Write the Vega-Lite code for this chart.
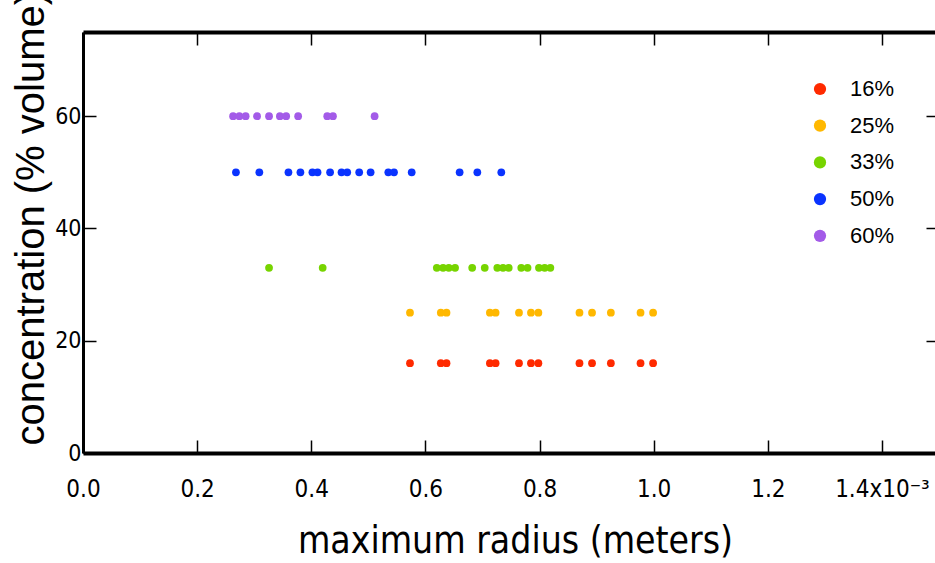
{
  "$schema": "https://vega.github.io/schema/vega-lite/v6.json",
  "width": 856,
  "height": 421,
  "autosize": {"type": "none"},
  "padding": {"left": 83, "top": 32, "right": 0, "bottom": 110},
  "background": "white",
  "config": {"view": {"stroke": null}, "font": "Liberation Sans"},
  "data": {
    "values": [
      {"radius": 0.573, "conc": 16, "group": "16%"},
      {"radius": 0.627, "conc": 16, "group": "16%"},
      {"radius": 0.637, "conc": 16, "group": "16%"},
      {"radius": 0.713, "conc": 16, "group": "16%"},
      {"radius": 0.723, "conc": 16, "group": "16%"},
      {"radius": 0.764, "conc": 16, "group": "16%"},
      {"radius": 0.785, "conc": 16, "group": "16%"},
      {"radius": 0.798, "conc": 16, "group": "16%"},
      {"radius": 0.870, "conc": 16, "group": "16%"},
      {"radius": 0.892, "conc": 16, "group": "16%"},
      {"radius": 0.925, "conc": 16, "group": "16%"},
      {"radius": 0.977, "conc": 16, "group": "16%"},
      {"radius": 0.999, "conc": 16, "group": "16%"},
      {"radius": 0.573, "conc": 25, "group": "25%"},
      {"radius": 0.627, "conc": 25, "group": "25%"},
      {"radius": 0.637, "conc": 25, "group": "25%"},
      {"radius": 0.713, "conc": 25, "group": "25%"},
      {"radius": 0.723, "conc": 25, "group": "25%"},
      {"radius": 0.764, "conc": 25, "group": "25%"},
      {"radius": 0.785, "conc": 25, "group": "25%"},
      {"radius": 0.798, "conc": 25, "group": "25%"},
      {"radius": 0.870, "conc": 25, "group": "25%"},
      {"radius": 0.892, "conc": 25, "group": "25%"},
      {"radius": 0.925, "conc": 25, "group": "25%"},
      {"radius": 0.977, "conc": 25, "group": "25%"},
      {"radius": 0.999, "conc": 25, "group": "25%"},
      {"radius": 0.326, "conc": 33, "group": "33%"},
      {"radius": 0.420, "conc": 33, "group": "33%"},
      {"radius": 0.620, "conc": 33, "group": "33%"},
      {"radius": 0.631, "conc": 33, "group": "33%"},
      {"radius": 0.641, "conc": 33, "group": "33%"},
      {"radius": 0.652, "conc": 33, "group": "33%"},
      {"radius": 0.682, "conc": 33, "group": "33%"},
      {"radius": 0.704, "conc": 33, "group": "33%"},
      {"radius": 0.726, "conc": 33, "group": "33%"},
      {"radius": 0.736, "conc": 33, "group": "33%"},
      {"radius": 0.746, "conc": 33, "group": "33%"},
      {"radius": 0.768, "conc": 33, "group": "33%"},
      {"radius": 0.779, "conc": 33, "group": "33%"},
      {"radius": 0.799, "conc": 33, "group": "33%"},
      {"radius": 0.809, "conc": 33, "group": "33%"},
      {"radius": 0.819, "conc": 33, "group": "33%"},
      {"radius": 0.268, "conc": 50, "group": "50%"},
      {"radius": 0.309, "conc": 50, "group": "50%"},
      {"radius": 0.360, "conc": 50, "group": "50%"},
      {"radius": 0.381, "conc": 50, "group": "50%"},
      {"radius": 0.402, "conc": 50, "group": "50%"},
      {"radius": 0.411, "conc": 50, "group": "50%"},
      {"radius": 0.433, "conc": 50, "group": "50%"},
      {"radius": 0.453, "conc": 50, "group": "50%"},
      {"radius": 0.463, "conc": 50, "group": "50%"},
      {"radius": 0.484, "conc": 50, "group": "50%"},
      {"radius": 0.504, "conc": 50, "group": "50%"},
      {"radius": 0.535, "conc": 50, "group": "50%"},
      {"radius": 0.545, "conc": 50, "group": "50%"},
      {"radius": 0.576, "conc": 50, "group": "50%"},
      {"radius": 0.660, "conc": 50, "group": "50%"},
      {"radius": 0.691, "conc": 50, "group": "50%"},
      {"radius": 0.733, "conc": 50, "group": "50%"},
      {"radius": 0.263, "conc": 60, "group": "60%"},
      {"radius": 0.274, "conc": 60, "group": "60%"},
      {"radius": 0.285, "conc": 60, "group": "60%"},
      {"radius": 0.305, "conc": 60, "group": "60%"},
      {"radius": 0.326, "conc": 60, "group": "60%"},
      {"radius": 0.345, "conc": 60, "group": "60%"},
      {"radius": 0.356, "conc": 60, "group": "60%"},
      {"radius": 0.377, "conc": 60, "group": "60%"},
      {"radius": 0.428, "conc": 60, "group": "60%"},
      {"radius": 0.438, "conc": 60, "group": "60%"},
      {"radius": 0.511, "conc": 60, "group": "60%"}
    ]
  },
  "layer": [
    {
      "mark": {"type": "circle", "size": 60, "opacity": 1},
      "encoding": {
        "x": {
          "field": "radius", "type": "quantitative",
          "scale": {"domain": [0, 1.5], "nice": false, "zero": false},
          "axis": {
            "title": "maximum radius (meters)",
            "values": [0, 0.2, 0.4, 0.6, 0.8, 1.0, 1.2, 1.4],
            "labelExpr": "datum.value > 1.3 ? '1.4x10⁻³' : format(datum.value, '.1f')",
            "grid": false, "labelFlush": false,
            "domainWidth": 4, "domainColor": "black",
            "tickColor": "black", "tickWidth": 1.5, "tickSize": -13,
            "labelFont": "DejaVu Sans Condensed, Liberation Sans", "labelFontSize": 24, "labelColor": "black",
            "labelPadding": 37, "labelBaseline": "top",
            "titleFont": "DejaVu Sans Condensed, Liberation Sans", "titleFontSize": 37, "titleFontWeight": "normal",
            "titleColor": "black", "titleBaseline": "alphabetic", "titleY": 99, "titleX": 432
          }
        },
        "y": {
          "field": "conc", "type": "quantitative",
          "scale": {"domain": [0, 75], "nice": false, "zero": false},
          "axis": {
            "title": "concentration (% volume)",
            "values": [0, 20, 40, 60],
            "grid": false, "labelFlush": false,
            "domainWidth": 3, "domainColor": "black",
            "tickColor": "black", "tickWidth": 1.5, "tickSize": -13,
            "labelFont": "DejaVu Sans Condensed, Liberation Sans", "labelFontSize": 23, "labelColor": "black",
            "labelPadding": 15,
            "titleFont": "Liberation Sans", "titleFontSize": 40, "titleFontWeight": "normal",
            "titleColor": "black", "titleAngle": -90, "titleAlign": "left",
            "titleBaseline": "alphabetic", "titleX": -40, "titleY": 413
          }
        },
        "color": {
          "field": "group", "type": "nominal",
          "scale": {
            "domain": ["16%", "25%", "33%", "50%", "60%"],
            "range": ["#ff2a00", "#ffb800", "#77d400", "#0a33ff", "#a35be8"]
          },
          "legend": {
            "title": null, "orient": "none", "legendX": 726, "legendY": 46,
            "padding": 0, "symbolType": "circle", "symbolSize": 150, "symbolStrokeWidth": 0,
            "symbolOpacity": 1,
            "labelFont": "Liberation Sans", "labelFontSize": 22, "labelColor": "black",
            "labelOffset": 19, "rowPadding": 14.7
          }
        }
      }
    },
    {
      "mark": {"type": "point", "opacity": 0},
      "encoding": {
        "x": {
          "field": "radius", "type": "quantitative",
          "axis": {
            "orient": "top", "title": null, "labels": false,
            "values": [0, 0.2, 0.4, 0.6, 0.8, 1.0, 1.2, 1.4],
            "grid": false, "domainWidth": 4, "domainColor": "black",
            "tickColor": "black", "tickWidth": 1.5, "tickSize": -13
          }
        },
        "y": {
          "field": "conc", "type": "quantitative",
          "axis": {
            "orient": "right", "title": null, "labels": false,
            "values": [0, 20, 40, 60],
            "grid": false, "domainWidth": 4, "domainColor": "black",
            "tickColor": "black", "tickWidth": 1.5, "tickSize": -13
          }
        }
      }
    }
  ],
  "resolve": {"axis": {"x": "independent", "y": "independent"}}
}
